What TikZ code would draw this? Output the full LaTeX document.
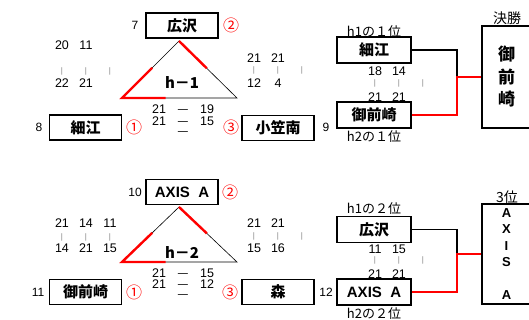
\documentclass[tikz,border=0pt]{standalone}
\usepackage{fontspec}
\setmainfont{Liberation Sans}
\newfontfamily\jp{Noto Sans CJK JP}
\usetikzlibrary{calc}
\newcommand\fsz[1]{\fontsize{#1}{#1}\selectfont}
\newcommand\scrow[3]{\makebox[24pt]{#1}\makebox[24pt]{#2}\makebox[24pt]{#3}}
\tikzset{
  team/.style={draw,line width=1.5pt,minimum width=72pt,minimum height=25pt,inner sep=0pt,
    font=\jp\bfseries\fsz{15}},
  win/.style={draw=red,line width=2.4pt},
}

\begin{document}
\begin{tikzpicture}[x=1pt,y=-1pt,
   num/.style={font=\fsz{12.5},inner sep=0pt},
   seed/.style={font=\fsz{12},inner sep=0pt},
   bars/.style={font=\fsz{8},text=gray,inner sep=0pt},
   rank/.style={font=\jp\fsz{16},text=red,inner sep=0pt},
   note/.style={font=\jp\fsz{13},inner sep=0pt},
   tri/.style={line width=0.6pt},
   link/.style={line width=1.5pt},
   place/.style={draw,line width=1.8pt,minimum width=49pt,inner sep=0pt,align=center}]
  \useasboundingbox (0,0) rectangle (529,320);
  \clip (0,0) rectangle (529,320);
  \node[team] (h1a) at (182,25.5) {広沢};
  \node[team] (h1b) at (85.5,127.5) {細江};
  \node[team] (h1c) at (278,128) {小笠南};
  \node[seed] (n7) at (135,25) {7};
  \node[seed] (n8) at (39,127) {8};
  \node[seed] (n9) at (326,127) {9};
  \node[rank] (r2a) at (231,25) {②};
  \node[rank] (r1a) at (134,127) {①};
  \node[rank] (r3a) at (231,127) {③};
  \coordinate (t1) at (179,41);
  \coordinate (t1l) at (122,98);
  \coordinate (t1r) at (237,98);
  \draw[tri] (t1) -- (t1l) -- (t1r) -- cycle;
  \draw[win] ($(t1l)!0.53!(t1)$) -- (t1l) -- ($(t1l)!0.38!(t1r)$);
  \draw[win] (t1) -- ($(t1)!0.48!(t1r)$);
  \node[font=\jp\bfseries\fsz{15}] (g1) at (182,83) {h－1};
  \node[num] (s1a) at (183,109) {\scrow{21}{\jp —}{19}};
  \node[num] (s1b) at (183,121) {\scrow{21}{\jp —}{15}};
  \node[num] (s1c) at (183,134) {\scrow{}{\jp —}{}};
  \node[num] (p1a) at (86,45) {\scrow{20}{11}{}};
  \node[bars] (p1b) at (86,71) {\scrow{|}{|}{|}};
  \node[num] (p1c) at (86,83) {\scrow{22}{21}{}};
  \node[num] (p1d) at (278,58) {\scrow{21}{21}{}};
  \node[bars] (p1e) at (278,70) {\scrow{|}{|}{|}};
  \node[num] (p1f) at (278,83) {\scrow{12}{4}{}};

  \node[note] (c1) at (374,32) {h1の１位};
  \node[team,minimum width=74pt,minimum height=26pt] (q1a) at (374,50) {細江};
  \node[num] (q1s) at (399,71) {\scrow{18}{14}{}};
  \node[bars] (q1t) at (399,83) {\scrow{|}{|}{|}};
  \node[num] (q1u) at (399,97) {\scrow{21}{21}{}};
  \node[team,minimum width=74pt,minimum height=26pt] (q1b) at (374,115) {御前崎};
  \node[note] (c2) at (374,137) {h2の１位};
  \node[place,minimum height=102pt,font=\jp\bfseries\fontsize{17}{22.5}\selectfont] (fin) at (506.5,77) {御\\前\\崎};
  \node[note,font=\jp\fsz{14}] (c3) at (507,18) {決勝};
  \draw[link] (q1a.east) -| ($(fin.west)+(-24,0)$);
  \draw[win,line width=2.2pt] (q1b.east) -| ($(fin.west)+(-24,0)$) -- (fin.west);

  \node[team,font=\bfseries\fsz{15}] (h2a) at (182,192) {AXIS\ \ A};
  \node[team] (h2b) at (85.5,292) {御前崎};
  \node[team] (h2c) at (278,292) {森};
  \node[seed] (n10) at (135,192) {10};
  \node[seed] (n11) at (38,292) {11};
  \node[seed] (n12) at (326,292) {12};
  \node[rank] (r2b) at (230,192) {②};
  \node[rank] (r1b) at (134,292) {①};
  \node[rank] (r3b) at (230,292) {③};
  \coordinate (t2) at (179,207);
  \coordinate (t2l) at (122,262);
  \coordinate (t2r) at (237,262);
  \draw[tri] (t2) -- (t2l) -- (t2r) -- cycle;
  \draw[win] ($(t2l)!0.53!(t2)$) -- (t2l) -- ($(t2l)!0.38!(t2r)$);
  \draw[win] (t2) -- ($(t2)!0.48!(t2r)$);
  \node[font=\jp\bfseries\fsz{15}] (g2) at (182,253) {h－2};
  \node[num] (s2a) at (183,273) {\scrow{21}{\jp —}{15}};
  \node[num] (s2b) at (183,284.5) {\scrow{21}{\jp —}{12}};
  \node[num] (s2c) at (183,297) {\scrow{}{\jp —}{}};
  \node[num] (p2a) at (86,223) {\scrow{21}{14}{11}};
  \node[bars] (p2b) at (86,237) {\scrow{|}{|}{|}};
  \node[num] (p2c) at (86,248) {\scrow{14}{21}{15}};
  \node[num] (p2d) at (278,223) {\scrow{21}{21}{}};
  \node[bars] (p2e) at (278,236) {\scrow{|}{|}{|}};
  \node[num] (p2f) at (278,248) {\scrow{15}{16}{}};

  \node[note] (c4) at (374,209) {h1の２位};
  \node[team,minimum width=74pt,minimum height=26pt] (q2a) at (374,229.5) {広沢};
  \node[num] (q2s) at (399,249) {\scrow{11}{15}{}};
  \node[bars] (q2t) at (399,260) {\scrow{|}{|}{|}};
  \node[num] (q2u) at (399,274) {\scrow{21}{21}{}};
  \node[team,minimum width=74pt,minimum height=26pt,font=\bfseries\fsz{15}] (q2b) at (374,292) {AXIS\ \ A};
  \node[note] (c5) at (374,314) {h2の２位};
  \node[place,minimum height=100pt,font=\bfseries\fontsize{13}{16.5}\selectfont] (third) at (506.5,254) {A\\X\\I\\S\\\mbox{}\\A};
  \node[note,font=\jp\fsz{14}] (c6) at (507,197) {3位};
  \draw[link] (q2a.east) -| ($(third.west)+(-24,0)$);
  \draw[win,line width=2.2pt] (q2b.east) -| ($(third.west)+(-24,0)$) -- (third.west);
\end{tikzpicture}
\end{document}
